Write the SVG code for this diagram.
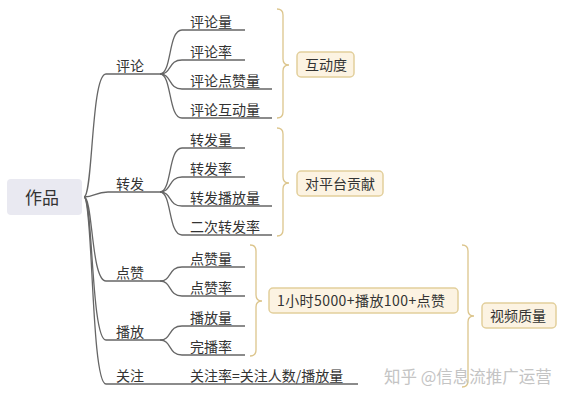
<svg xmlns="http://www.w3.org/2000/svg" width="566" height="402" viewBox="0 0 566 402">
<style>
text{font-family:"Noto Sans CJK SC","Liberation Sans",sans-serif;fill:#333;font-size:14px}
.ln{fill:none;stroke:#666;stroke-width:1.3}
.br{fill:none;stroke:#dcc58c;stroke-width:1.3}
.box{fill:#fcf3e2;stroke:#e2cf9c;stroke-width:1.5}
.root{fill:#e9e9f1}
.wm{fill:#c4c4c4;font-size:16.5px}
</style>
<rect width="566" height="402" fill="#fff"/>
<g id="connectors">
<path class="ln" d="M84,197 C93,197 91,74 106,74 H160"/>
<path class="ln" d="M84,197 C95,197 95,192 108,192 H160"/>
<path class="ln" d="M84,197 C93,197 91,281 106,281 H160"/>
<path class="ln" d="M84,197 C93,197 91,340 106,340 H160"/>
<path class="ln" d="M84,197 C93,197 91,384 106,384 H358"/>
<path class="ln" d="M160,74 C172,74 168,30 182,30 H245"/>
<path class="ln" d="M160,74 C172,74 168,60 182,60 H245"/>
<path class="ln" d="M160,74 C172,74 168,89 182,89 H272"/>
<path class="ln" d="M160,74 C172,74 168,118 182,118 H272"/>
<path class="ln" d="M160,192 C172,192 168,148 182,148 H245"/>
<path class="ln" d="M160,192 C172,192 168,177 182,177 H245"/>
<path class="ln" d="M160,192 C172,192 168,206 182,206 H272"/>
<path class="ln" d="M160,192 C172,192 168,235 182,235 H272"/>
<path class="ln" d="M160,281 C172,281 168,267 182,267 H245"/>
<path class="ln" d="M160,281 C172,281 168,296 182,296 H245"/>
<path class="ln" d="M160,340 C172,340 168,326 182,326 H245"/>
<path class="ln" d="M160,340 C172,340 168,355 182,355 H245"/>
<path class="br" d="M277,9 Q283,9 283,15 V59 Q283,65 289,65 Q283,65 283,71 V112 Q283,118 277,118"/>
<path class="br" d="M277,128 Q283,128 283,134 V177 Q283,183 289,183 Q283,183 283,189 V230 Q283,236 277,236"/>
<path class="br" d="M250,245 Q256,245 256,251 V295 Q256,301 262,301 Q256,301 256,307 V350 Q256,356 250,356"/>
<path class="br" d="M462,245 Q468,245 468,251 V310 Q468,316 474,316 Q468,316 468,322 V381 Q468,387 462,387"/>
</g>
<g id="root"><rect class="root" x="7" y="179" width="75" height="36" rx="4"/><text x="25" y="204" style="font-size:17px">作品</text></g>
<g id="n-pinglun"><text x="116" y="71">评论</text></g>
<g id="n-zhuanfa"><text x="116" y="189">转发</text></g>
<g id="n-dianzan"><text x="116" y="278">点赞</text></g>
<g id="n-bofang"><text x="116" y="337">播放</text></g>
<g id="n-guanzhu"><text x="116" y="381">关注</text></g>
<g id="c1"><text x="190" y="27">评论量</text></g>
<g id="c2"><text x="190" y="57">评论率</text></g>
<g id="c3"><text x="190" y="86">评论点赞量</text></g>
<g id="c4"><text x="190" y="115">评论互动量</text></g>
<g id="c5"><text x="190" y="145">转发量</text></g>
<g id="c6"><text x="190" y="174">转发率</text></g>
<g id="c7"><text x="190" y="203">转发播放量</text></g>
<g id="c8"><text x="190" y="232">二次转发率</text></g>
<g id="c9"><text x="190" y="264">点赞量</text></g>
<g id="c10"><text x="190" y="293">点赞率</text></g>
<g id="c11"><text x="190" y="323">播放量</text></g>
<g id="c12"><text x="190" y="352">完播率</text></g>
<g id="c13"><text x="190" y="381">关注率=关注人数/播放量</text></g>
<g id="s1"><rect class="box" x="297" y="52" width="57" height="25" rx="4"/><text x="305" y="69.5">互动度</text></g>
<g id="s2"><rect class="box" x="297" y="171" width="86" height="25" rx="4"/><text x="305" y="188.5">对平台贡献</text></g>
<g id="s3"><rect class="box" x="269" y="288" width="189" height="25" rx="4"/><text x="277" y="305.5" textLength="168" lengthAdjust="spacing">1小时5000+播放100+点赞</text></g>
<g id="s4"><rect class="box" x="482" y="303" width="74" height="25" rx="4"/><text x="490" y="320.5">视频质量</text></g>
<text class="wm" x="384" y="383">知乎 @信息流推广运营</text>
</svg>
